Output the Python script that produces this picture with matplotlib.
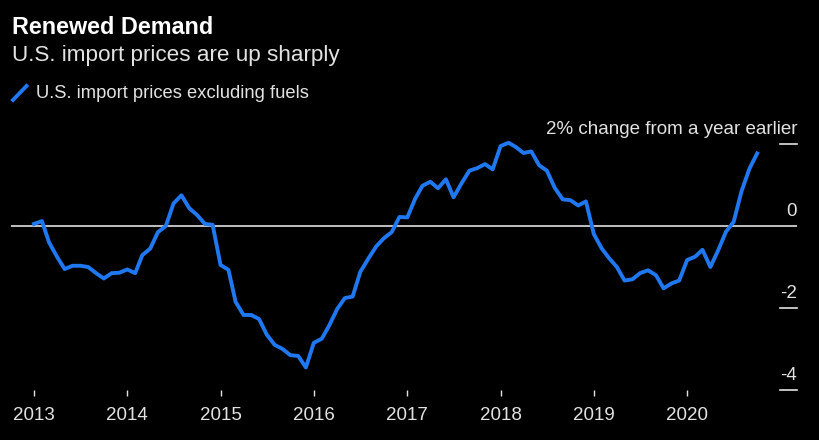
import matplotlib
matplotlib.use("Agg")
import matplotlib.pyplot as plt
import matplotlib.transforms as mtransforms
import pandas as pd

# monthly y/y % change, Jan 2013 - Oct 2020
values = [0.05, 0.12, -0.4, -0.75, -1.05, -0.97, -0.97, -1.0, -1.15, -1.28, -1.15, -1.14,
          -1.06, -1.15, -0.71, -0.55, -0.15, 0.0, 0.55, 0.75, 0.43, 0.27, 0.05, 0.03,
          -0.95, -1.07, -1.85, -2.17, -2.17, -2.27, -2.65, -2.9, -3.0, -3.15, -3.17, -3.45,
          -2.85, -2.75, -2.43, -2.03, -1.76, -1.72, -1.12, -0.8, -0.5, -0.3, -0.15, 0.22,
          0.21, 0.67, 0.98, 1.08, 0.92, 1.14, 0.7, 1.04, 1.35, 1.41, 1.51, 1.38,
          1.95, 2.03, 1.93, 1.78, 1.82, 1.48, 1.35, 0.93, 0.65, 0.63, 0.5, 0.6,
          -0.2, -0.55, -0.78, -1.0, -1.33, -1.3, -1.15, -1.08, -1.2, -1.52, -1.4, -1.33,
          -0.83, -0.75, -0.58, -1.0, -0.6, -0.14, 0.1, 0.85, 1.4, 1.77]
dates = pd.date_range("2013-01-01", periods=len(values), freq="MS")

years = [2013, 2014, 2015, 2016, 2017, 2018, 2019, 2020]
yticks = [2, 0, -2, -4]
ylabels = ["2% change from a year earlier", "0", "-2", "-4"]

title = "Renewed Demand"
subtitle = "U.S. import prices are up sharply"
series_name = "U.S. import prices excluding fuels"

blue = "#1f78f0"
txt = "#e2e2e2"
plt.rcParams["font.family"] = ["Liberation Sans", "DejaVu Sans"]

fig = plt.figure(figsize=(8.19, 4.40), dpi=100, facecolor="black")
ax = fig.add_axes([11 / 819, 1 - 390 / 440, 786 / 819, (390 - 131.7) / 440])
ax.set_facecolor("black")

ax.axhline(0, color="#cfcfcf", lw=1.3, zorder=1)
ax.plot(dates, values, color=blue, lw=2.8, zorder=3, solid_joinstyle="round")

ax.set_xlim(pd.Timestamp("2012-10-03"), pd.Timestamp("2021-03-06"))
ax.set_ylim(-4, 2.3)

for s in ax.spines.values():
    s.set_visible(False)

ax.set_xticks([pd.Timestamp(f"{y}-01-01") for y in years])
ax.set_xticklabels([str(y) for y in years])
ax.tick_params(axis="x", colors=txt, labelsize=13.5, length=4, width=1, direction="out", pad=8)
ax.set_yticks([])

# right-side y labels sitting above short dashes
trans = mtransforms.blended_transform_factory(ax.transAxes, ax.transData)
for v, lab in zip(yticks, ylabels):
    if v != 0:
        ax.plot([0.978, 1.0], [v, v], color=txt, lw=1.2, transform=trans, clip_on=False)
    off = mtransforms.offset_copy(trans, fig=fig, x=0, y=6, units="dots")
    ax.text(1.0, v, lab, color=txt, fontsize=13.5, ha="right", va="bottom", transform=off)

fig.text(12 / 819, 1 - 27 / 440, title, color="white", fontsize=16.8, fontweight="bold", va="center")
fig.text(12 / 819, 1 - 56 / 440, subtitle, color=txt, fontsize=16.2, va="center")
fig.add_artist(plt.Line2D([13 / 819, 26.5 / 819], [1 - 100 / 440, 1 - 86 / 440], color=blue, lw=2.8,
                          transform=fig.transFigure))
fig.text(36 / 819, 1 - 94 / 440, series_name, color=txt, fontsize=13.2, va="center")

fig.savefig("out.png", dpi=100, facecolor="black")
